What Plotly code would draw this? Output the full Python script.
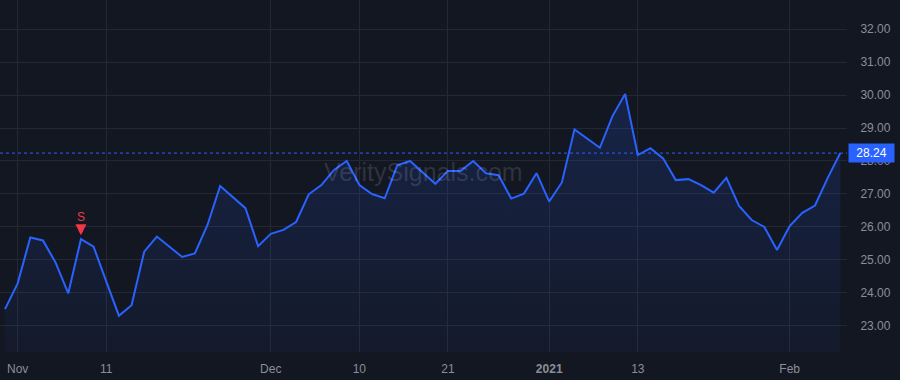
import pandas as pd
import plotly.graph_objects as go

# ---- data ----
holidays = ["2020-11-26", "2020-12-25", "2021-01-01", "2021-01-18"]
dates = [d.strftime("%Y-%m-%d") for d in pd.bdate_range("2020-10-30", "2021-02-05")
         if d.strftime("%Y-%m-%d") not in holidays]

prices = [23.51, 24.29, 25.68, 25.59, 24.92, 23.99, 25.63, 25.40, 24.35, 23.31,
          23.63, 25.25, 25.71, 25.40, 25.09, 25.20, 26.06, 27.24, 26.90, 26.57,
          25.42, 25.79, 25.91, 26.15, 26.99, 27.27, 27.73, 28.00, 27.27, 27.00,
          26.87, 27.87, 28.00, 27.65, 27.31, 27.70, 27.70, 28.00, 27.63, 27.57,
          26.86, 27.01, 27.63, 26.77, 27.35, 28.96, 28.68, 28.40, 29.36, 30.03,
          28.18, 28.39, 28.08, 27.42, 27.45, 27.27, 27.04, 27.49, 26.64, 26.21,
          26.00, 25.30, 26.03, 26.43, 26.65, 27.48, 28.24]

tick_dates = ["2020-11-02", "2020-11-11", "2020-12-01", "2020-12-10", "2020-12-21",
              "2021-01-04", "2021-01-13", "2021-02-01"]
tick_labels = ["Nov", "11", "Dec", "10", "21", "<b>2021</b>", "13", "Feb"]
y_ticks = [23, 24, 25, 26, 27, 28, 29, 30, 31, 32]

signal_date = "2020-11-09"
signal_label = "S"
last_price = prices[-1]
watermark = "VeritySignals.com"

# ---- style ----
BG = "#131722"
GRID = "#242833"
LINE = "#2962ff"
TXT = "#8a8e99"
RED = "#f23645"
FONT = "Liberation Sans, Arial"

y_lo, y_hi = 22.21, 32.88

fig = go.Figure()
fig.add_trace(go.Scatter(
    x=dates, y=prices, mode="lines",
    line=dict(color=LINE, width=2),
    fill="tozeroy",
    fillgradient=dict(type="vertical",
                      colorscale=[[0, "rgba(41,98,255,0.04)"],
                                  [y_lo / max(prices), "rgba(41,98,255,0.04)"],
                                  [1, "rgba(41,98,255,0.17)"]]),
    hoverinfo="skip", showlegend=False,
))

# last price dotted line
fig.add_shape(type="line", xref="paper", x0=0, x1=1, yref="y", y0=last_price, y1=last_price,
              line=dict(color=LINE, width=1, dash="dot"), layer="above")

# price label
fig.add_annotation(xref="paper", x=1.0, xanchor="left", yref="y", y=last_price,
                   text=f"{last_price:.2f}", showarrow=False,
                   font=dict(family=FONT, size=12, color="white"),
                   bgcolor=LINE, borderpad=2, xshift=1, width=41, align="center")

# signal marker: arrow + label
sig_val = prices[dates.index(signal_date)]
fig.add_annotation(x=signal_date, y=sig_val, text="", showarrow=True,
                   arrowhead=2, arrowsize=0.55, arrowwidth=4, arrowcolor=RED,
                   ax=0, ay=-15, standoff=4)
fig.add_annotation(x=signal_date, y=sig_val, text=signal_label, showarrow=False,
                   yshift=22, font=dict(family=FONT, size=12, color=RED))

# watermark
fig.add_annotation(xref="paper", yref="paper", x=0.5, y=0.511, text=watermark,
                   showarrow=False,
                   font=dict(family=FONT, size=25, color="rgba(255,255,255,0.13)"))

fig.update_layout(
    width=900, height=380,
    margin=dict(l=0, r=53, t=0, b=28),
    paper_bgcolor=BG, plot_bgcolor=BG,
    font=dict(family=FONT, size=12, color=TXT),
    showlegend=False,
    xaxis=dict(type="category", categoryorder="array", categoryarray=dates,
               range=[-0.395, 66.53],
               tickmode="array", tickvals=tick_dates, ticktext=tick_labels,
               showgrid=True, gridcolor=GRID, gridwidth=1,
               ticks="outside", ticklen=6, tickcolor="rgba(0,0,0,0)",
               showline=False, zeroline=False, fixedrange=True),
    yaxis=dict(side="right", range=[y_lo, y_hi],
               tickmode="array", tickvals=y_ticks, tickformat=".2f",
               showgrid=True, gridcolor=GRID, gridwidth=1,
               ticks="outside", ticklen=10, tickcolor="rgba(0,0,0,0)",
               showline=False, zeroline=False, fixedrange=True),
)

fig.write_html("out.html")
